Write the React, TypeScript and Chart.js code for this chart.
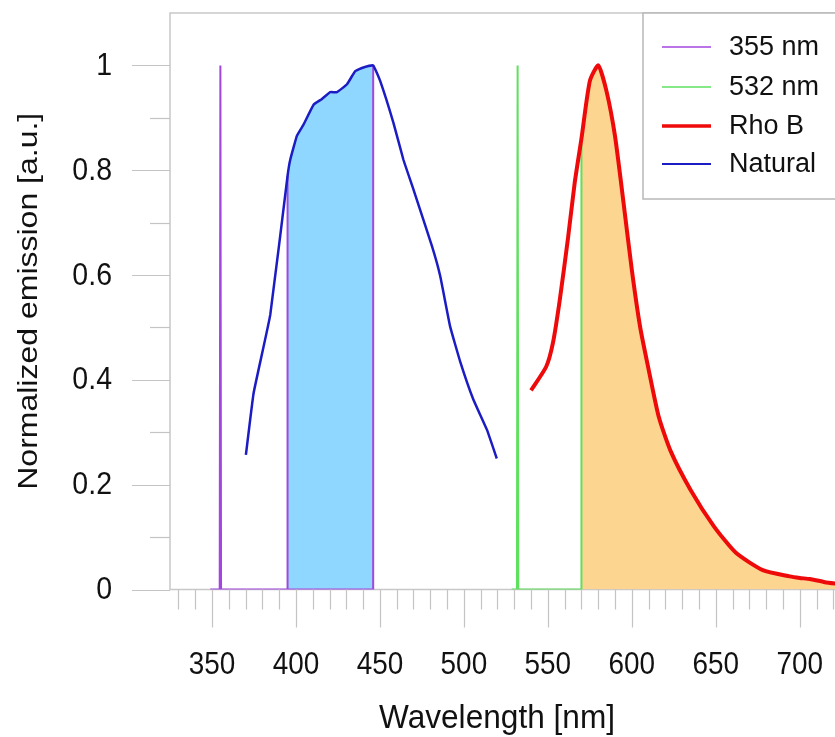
import React, { useEffect, useRef } from "react";
import { Chart, registerables } from "chart.js";

Chart.register(...registerables);

// ---- Data ----
const naturalNm = [370.2, 374.8, 384.7, 395, 396.6, 400.6, 404.5, 410.5, 415.5, 420.4, 424.4, 430.4, 435.3, 440.2, 446, 450.2, 458.1, 464, 470, 481, 485.9, 491.8, 497.8, 505.7, 513.7, 519.6];
const naturalVal = [0.257, 0.375, 0.524, 0.789, 0.82, 0.866, 0.887, 0.925, 0.936, 0.949, 0.949, 0.964, 0.989, 0.996, 1.0, 0.97, 0.89, 0.82, 0.763, 0.655, 0.598, 0.502, 0.435, 0.362, 0.305, 0.25];

const rhoNm = [540, 549, 553, 557, 562, 566, 570, 575, 580, 585, 590, 595, 600, 605, 610, 616, 623, 635, 649, 662, 678, 694, 700, 706, 715, 725];
const rhoVal = [0.38, 0.425, 0.47, 0.55, 0.67, 0.776, 0.86, 0.97, 1.0, 0.95, 0.865, 0.74, 0.61, 0.5, 0.42, 0.33, 0.265, 0.19, 0.12, 0.07, 0.037, 0.025, 0.022, 0.02, 0.014, 0.01];

const laser355Nm = [349, 354.6, 355, 355.4, 395, 395, 395, 446, 446];
const laser355Val = [0, 0, 1, 0, 0, 0.789, 0, 0, 1.0];

const laser532Nm = [528.5, 531.6, 532, 532.4, 570, 570];
const laser532Val = [0, 0, 1, 0, 0, 0.85];

const naturalBand = [395, 446];
const rhoBand = [570, 725];

const xTickMajor = [350, 400, 450, 500, 550, 600, 650, 700];
const yTickMajor = [0, 0.2, 0.4, 0.6, 0.8, 1];
const yTickLabels = ["0", "0.2", "0.4", "0.6", "0.8", "1"];

const legendLabels = ["355 nm", "532 nm", "Rho B", "Natural"];

const C355 = "#a346e0";
const C532 = "#5fe05f";
const CRHO = "#ee0a0a";
const CNAT = "#1c1cc4";

const pts = (xs: number[], ys: number[]) => xs.map((x, i) => ({ x, y: ys[i] }));
const inBand = (xs: number[], ys: number[], b: number[]) =>
  pts(xs, ys).filter((p) => p.x >= b[0] && p.x <= b[1]);

const FONT = "'Liberation Sans', Arial, Helvetica, sans-serif";

const decor = {
  id: "decor",
  beforeDatasetsDraw(chart: any) {
    const { ctx, chartArea: a } = chart;
    ctx.save();
    ctx.strokeStyle = "#c8c8c8";
    ctx.lineWidth = 1.5;
    ctx.beginPath();
    ctx.moveTo(a.right + 5, a.top);
    ctx.lineTo(a.left, a.top);
    ctx.lineTo(a.left, a.bottom);
    ctx.lineTo(a.right + 5, a.bottom);
    ctx.stroke();
    ctx.restore();
  },
  afterDatasetsDraw(chart: any) {
    const { ctx, chartArea: a, scales } = chart;
    const xs = scales.x;
    const ys = scales.y;
    ctx.save();
    // ticks
    ctx.strokeStyle = "#c4c4c4";
    ctx.lineWidth = 1.2;
    for (let v = 330; v <= 720; v += 10) {
      const px = Math.round(xs.getPixelForValue(v)) + 0.5;
      const major = v % 50 === 0;
      ctx.beginPath();
      ctx.moveTo(px, a.bottom);
      ctx.lineTo(px, a.bottom + (major ? 38 : 20));
      ctx.stroke();
    }
    for (let k = 0; k <= 10; k++) {
      const v = k / 10;
      const py = Math.round(ys.getPixelForValue(v)) + 0.5;
      const major = k % 2 === 0;
      ctx.beginPath();
      ctx.moveTo(a.left, py);
      ctx.lineTo(a.left - (major ? 38 : 20), py);
      ctx.stroke();
    }
    // tick labels
    ctx.fillStyle = "#111";
    ctx.textBaseline = "middle";
    ctx.font = `31px ${FONT}`;
    ctx.textAlign = "center";
    xTickMajor.forEach((v) => {
      const px = xs.getPixelForValue(v);
      ctx.save();
      ctx.translate(px, 665);
      ctx.scale(0.9, 1);
      ctx.fillText(String(v), 0, 0);
      ctx.restore();
    });
    ctx.textAlign = "right";
    yTickMajor.forEach((v, i) => {
      const py = ys.getPixelForValue(v);
      ctx.save();
      ctx.translate(112, py + 1);
      ctx.scale(0.92, 1);
      ctx.fillText(yTickLabels[i], 0, 0);
      ctx.restore();
    });
    // axis titles
    ctx.textAlign = "center";
    ctx.font = `34px ${FONT}`;
    ctx.save();
    ctx.translate(497, 719);
    ctx.scale(0.93, 1);
    ctx.fillText("Wavelength [nm]", 0, 0);
    ctx.restore();
    ctx.save();
    ctx.translate(29, (a.top + a.bottom) / 2);
    ctx.scale(0.88, 1);
    ctx.rotate(-Math.PI / 2);
    ctx.font = `32px ${FONT}`;
    ctx.fillText("Normalized emission [a.u.]", 0, 0);
    ctx.restore();

    // legend
    const lx = 643, ly = a.top, lh = 186;
    ctx.fillStyle = "#ffffff";
    ctx.fillRect(lx, ly, 300, lh);
    ctx.strokeStyle = "#b8b8b8";
    ctx.lineWidth = 1.5;
    ctx.strokeRect(lx, ly, 300, lh);
    const colors = [C355, C532, CRHO, CNAT];
    const widths = [1.5, 1.5, 3.5, 2];
    const rows = [47, 87, 126, 164];
    ctx.font = `27px ${FONT}`;
    ctx.textAlign = "left";
    ctx.fillStyle = "#111";
    legendLabels.forEach((t, i) => {
      ctx.strokeStyle = colors[i];
      ctx.lineWidth = widths[i];
      ctx.beginPath();
      ctx.moveTo(662, rows[i]);
      ctx.lineTo(711, rows[i]);
      ctx.stroke();
      ctx.fillText(t, 729, rows[i] + 1);
    });
    ctx.restore();
  },
};

export default function App() {
  const ref = useRef<HTMLCanvasElement | null>(null);
  useEffect(() => {
    const canvas = ref.current!;
    const chart = new Chart(canvas, {
      type: "scatter",
      data: {
        datasets: [
          {
            label: "Natural band",
            data: inBand(naturalNm, naturalVal, naturalBand),
            showLine: true,
            borderWidth: 0,
            borderColor: "rgba(0,0,0,0)",
            backgroundColor: "#8fd7ff",
            fill: "origin",
            pointRadius: 0,
            tension: 0,
            order: 10,
          },
          {
            label: "Rho band",
            data: inBand(rhoNm, rhoVal, rhoBand),
            showLine: true,
            borderWidth: 0,
            borderColor: "rgba(0,0,0,0)",
            backgroundColor: "#fcd690",
            fill: "origin",
            pointRadius: 0,
            tension: 0,
            order: 9,
          },
          {
            label: legendLabels[0],
            data: pts(laser355Nm, laser355Val),
            showLine: true,
            borderColor: C355,
            borderWidth: 2,
            pointRadius: 0,
            fill: false,
            order: 4,
          },
          {
            label: legendLabels[1],
            data: pts(laser532Nm, laser532Val),
            showLine: true,
            borderColor: C532,
            borderWidth: 2,
            pointRadius: 0,
            fill: false,
            order: 3,
          },
          {
            label: legendLabels[2],
            data: pts(rhoNm, rhoVal),
            showLine: true,
            borderColor: CRHO,
            borderWidth: 4,
            pointRadius: 0,
            fill: false,
            tension: 0.2,
            order: 2,
          },
          {
            label: legendLabels[3],
            data: pts(naturalNm, naturalVal),
            showLine: true,
            borderColor: CNAT,
            borderWidth: 2.5,
            pointRadius: 0,
            fill: false,
            tension: 0.1,
            order: 1,
          },
        ],
      },
      options: {
        responsive: false,
        animation: false,
        devicePixelRatio: 1,
        layout: { padding: { left: 170, top: 13, right: 0, bottom: 147.5 } },
        plugins: { legend: { display: false }, tooltip: { enabled: false } },
        scales: {
          x: { type: "linear", min: 325, max: 721, display: false },
          y: { type: "linear", min: 0, max: 1.1, display: false },
        },
      },
      plugins: [decor],
    });
    return () => chart.destroy();
  }, []);
  return (
    <div style={{ position: "fixed", left: 0, top: 0, width: 835, height: 737, overflow: "hidden", background: "#fff" }}>
      <canvas ref={ref} width={835} height={737} style={{ display: "block" }} />
    </div>
  );
}
